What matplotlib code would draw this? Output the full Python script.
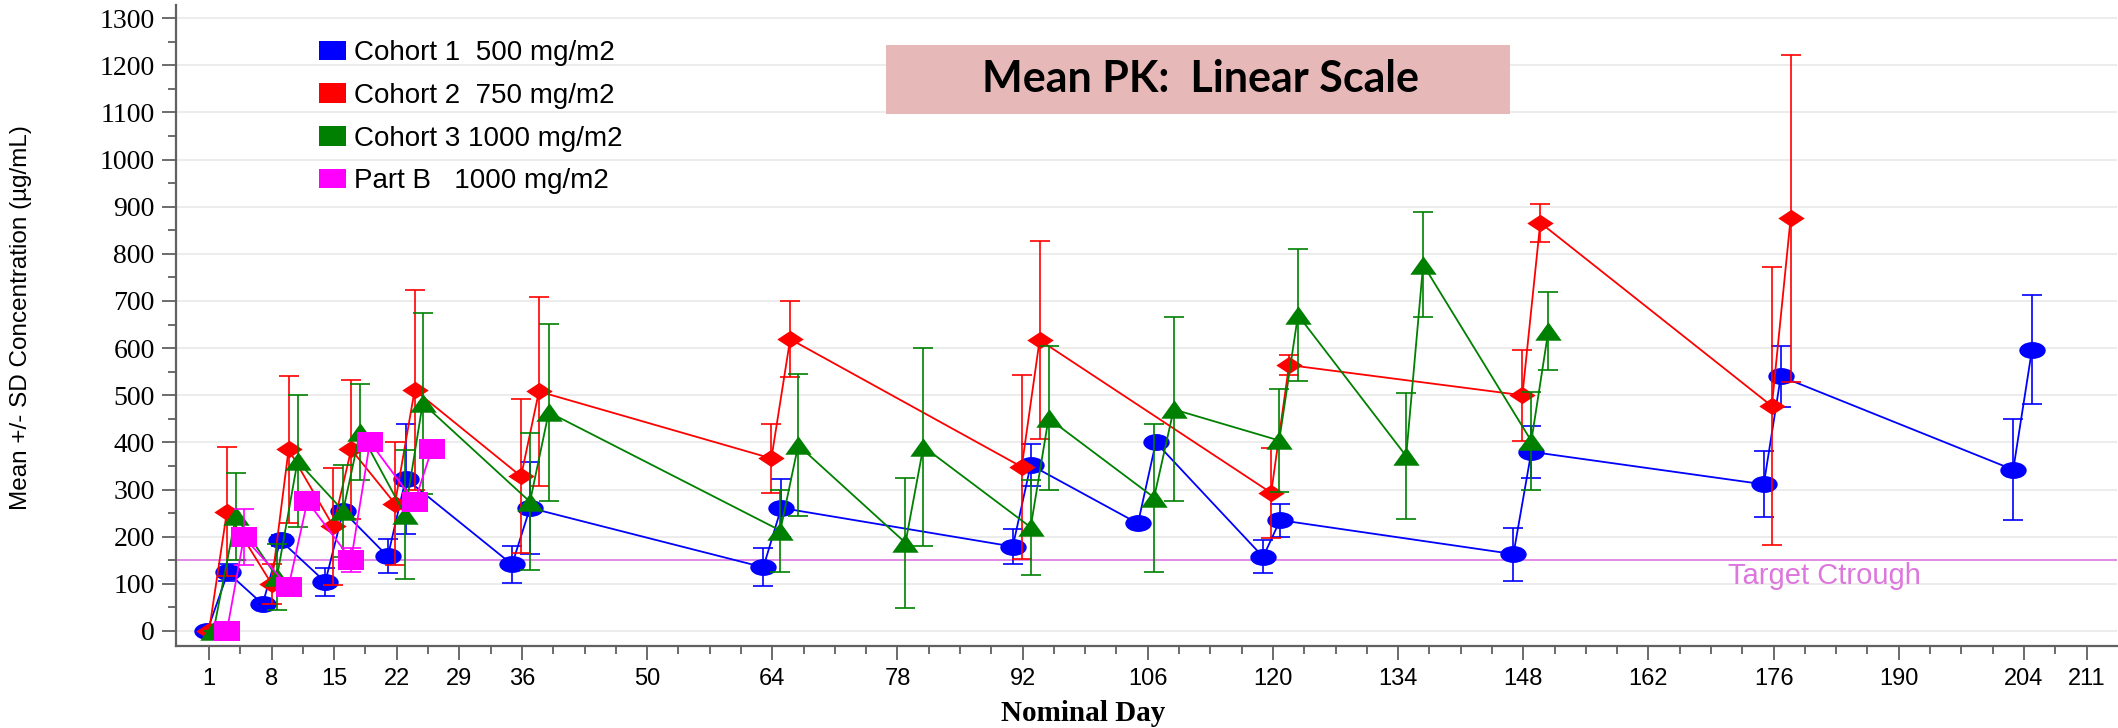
import numpy as np
import matplotlib
matplotlib.use('Agg')
import matplotlib.pyplot as plt
from matplotlib.path import Path
from matplotlib.patches import Rectangle, Patch

# Nominal days (as plotted, with small per-cohort offsets), means and SDs
days_c1 = [0.8, 3.1, 7.0, 9.0, 14.0, 16.0, 21.0, 23.0, 34.9, 36.9, 63.0, 65.0,
           90.9, 92.9, 104.9, 106.9, 118.9, 120.8, 146.9, 148.9, 174.9, 176.8, 202.8, 204.9]
mean_c1 = [0, 124, 57, 192, 104, 254, 158, 323, 141, 261, 135, 261,
           179, 352, 228, 400, 157, 235, 163, 380, 311, 540, 342, 597]
sd_c1 = [0, 17, 8, 12, 30, 12, 36, 117, 40, 98, 40, 61,
         37, 45, 8, 8, 35, 35, 56, 55, 70, 65, 107, 115]

days_c2 = [1.0, 3.0, 8.0, 9.9, 14.9, 16.9, 21.8, 24.0, 35.9, 37.9, 63.9, 66.0,
           91.9, 93.9, 119.8, 121.8, 147.9, 149.9, 175.8, 177.9]
mean_c2 = [0, 253, 100, 385, 222, 385, 270, 511, 328, 508, 366, 619,
           348, 617, 293, 564, 500, 866, 477, 875]
sd_c2 = [0, 137, 43, 155, 124, 148, 130, 213, 163, 200, 73, 81,
         195, 210, 95, 22, 97, 40, 295, 346]

days_c3 = [1.5, 4.0, 8.6, 10.9, 16.0, 17.9, 22.9, 24.9, 36.9, 39.0, 64.9, 66.9,
           78.9, 80.9, 92.9, 94.9, 106.7, 108.9, 120.7, 122.8, 134.9, 136.8, 148.9, 150.8]
mean_c3 = [0, 243, 114, 360, 255, 422, 247, 483, 274, 464, 213, 394,
           187, 391, 220, 451, 283, 470, 404, 670, 371, 777, 403, 636]
sd_c3 = [0, 92, 70, 140, 98, 101, 137, 192, 145, 188, 87, 150,
         138, 210, 101, 153, 157, 195, 110, 140, 134, 112, 104, 83]

days_pb = [3.0, 4.9, 9.9, 12.0, 16.9, 19.0, 24.0, 25.9]
mean_pb = [0, 199, 94, 275, 151, 401, 273, 385]
sd_pb = [0, 60, 0, 0, 26, 0, 0, 0]

labels = ['Cohort 1  500 mg/m2', 'Cohort 2  750 mg/m2',
          'Cohort 3 1000 mg/m2', 'Part B   1000 mg/m2']
colors = ['#0000ff', '#ff0000', '#008000', '#ff00ff']

target_ctrough = 150
xtick_labels = [1, 8, 15, 22, 29, 36, 50, 64, 78, 92, 106, 120, 134, 148, 162, 176, 190, 204, 211]


# markers are a bit wider than tall in the original
def squashed(verts):
    return Path(np.asarray(verts, dtype=float), closed=True)

circ = Path.unit_circle()
m_ellipse = Path(circ.vertices * [1.0, 0.64], circ.codes)
m_diamond = squashed([(-1, 0), (0, 0.66), (1, 0), (0, -0.66), (-1, 0)])
m_triangle = squashed([(-1, -0.7), (0, 0.7), (1, -0.7), (-1, -0.7)])
m_square = squashed([(-1, -0.78), (1, -0.78), (1, 0.78), (-1, 0.78), (-1, -0.78)])

series = [
    (days_c1, mean_c1, sd_c1, m_ellipse),
    (days_c2, mean_c2, sd_c2, m_diamond),
    (days_c3, mean_c3, sd_c3, m_triangle),
    (days_pb, mean_pb, sd_pb, m_square),
]

fig = plt.figure(figsize=(21.18, 7.28), dpi=100)
ax = fig.add_axes([0.0829, 0.1126, 0.9166, 0.88])

z = 3
for (d, m, s, mk), c in zip(series, colors):
    ax.errorbar(d, m, yerr=s, fmt='none', ecolor=c, elinewidth=1.2,
                capsize=7, capthick=1.2, zorder=z)
    ax.plot(d, m, color=c, lw=1.3, marker=mk, markersize=19,
            markeredgewidth=0, zorder=z + 0.5)
    z += 1

ax.axhline(target_ctrough, color='#e080e0', lw=1.3, zorder=2)
ax.text(170.9, target_ctrough - 3, 'Target Ctrough', color='#dd77dd',
        fontsize=21, family='Liberation Sans', va='top', ha='left')

ax.set_xlim(-2.74, 214.4)
ax.set_ylim(-32, 1327)

ax.set_yticks(np.arange(0, 1301, 100))
ax.set_yticks(np.arange(50, 1301, 100), minor=True)
ax.set_xticks(xtick_labels)
ax.set_xticklabels([str(v) for v in xtick_labels])
minor_x = [v for v in np.arange(1, 214, 3.5) if v not in xtick_labels]
ax.set_xticks(minor_x, minor=True)

ax.grid(axis='y', which='major', color='#ebebeb', lw=1.3, zorder=0)
ax.set_axisbelow(True)

for sp in ['top', 'right']:
    ax.spines[sp].set_visible(False)
for sp in ['left', 'bottom']:
    ax.spines[sp].set_color('#606060')
    ax.spines[sp].set_linewidth(1.6)

ax.tick_params(axis='both', which='major', length=10, width=1.3, color='#606060')
ax.tick_params(axis='both', which='minor', length=6, width=1.3, color='#606060')
ax.tick_params(axis='y', which='major', pad=5, labelsize=20, labelfontfamily='Liberation Serif')
ax.tick_params(axis='x', which='major', pad=6, labelsize=17, labelfontfamily='Liberation Sans')

ax.set_ylabel('Mean +/- SD Concentration (µg/mL)', fontsize=17.5, family='Liberation Sans')
ax.yaxis.set_label_coords(-0.074, 0.512)
ax.set_xlabel('Nominal Day', fontsize=21, family='Liberation Serif', fontweight='bold')
ax.xaxis.set_label_coords(0.4676, -0.084)

handles = [Patch(facecolor=c, edgecolor='none') for c in colors]
ax.legend(handles, labels, loc='upper left', bbox_to_anchor=(0.064, 0.976),
          frameon=False, prop={'family': 'Liberation Sans', 'size': 20},
          handlelength=0.95, handleheight=0.72, handletextpad=0.3,
          labelspacing=0.6, borderpad=0.2)

# title box
fig.patches.append(Rectangle((0.4183, 0.844), 0.2946, 0.0947, transform=fig.transFigure,
                             facecolor='#e6b8b7', edgecolor='none', zorder=5))
fig.text(0.5666, 0.8915, 'Mean PK:  Linear Scale', ha='center', va='center',
         fontsize=31, fontweight='bold', family='Lato', zorder=6)

fig.savefig('out.png', dpi=100)
